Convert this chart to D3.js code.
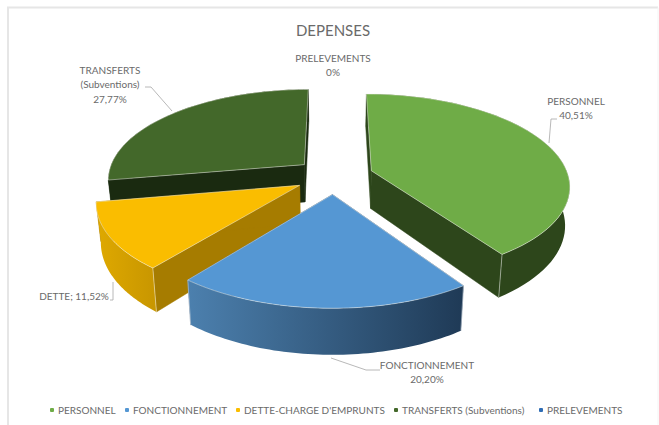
<!DOCTYPE html>
<html lang="fr">
<head>
<meta charset="utf-8">
<title>DEPENSES</title>
<script src="https://cdn.jsdelivr.net/npm/d3@7"></script>
<style>
  html, body { margin: 0; padding: 0; background: #fff; }
  svg { display: block; }
  text { font-family: Lato, "Open Sans", sans-serif; fill: #6a6a6a; }
</style>
</head>
<body>
<svg id="chart" width="659" height="425"></svg>
<script>
// Budget shares, in percent
const categories = ["PERSONNEL", "FONCTIONNEMENT", "DETTE-CHARGE D'EMPRUNTS", "TRANSFERTS (Subventions)", "PRELEVEMENTS"];
const shares = [40.51, 20.20, 11.52, 27.77, 0];
const labelNames = [["PERSONNEL"], ["FONCTIONNEMENT"], ["DETTE"], ["TRANSFERTS", "(Subventions)"], ["PRELEVEMENTS"]];
const topColors = ["#6fac47", "#5597d3", "#fabd00", "#43682a", "#2f6db5"];
const wallStart = ["#2d461b", "#4c80ae", "#dfa900", "#1a2a10", "#1f4a7a"];
const wallEnd = ["#2d461b", "#1f3a56", "#c99700", "#1a2a10", "#1f4a7a"];
const radialWall = ["#2d461b", "#2a4a6c", "#a67c00", "#1a2a10", "#1f4a7a"];
const drawOrder = [3, 0, 2, 1];
const chartTitle = "DEPENSES";

const svg = d3.select("#chart");

// Tilted disc: plane coordinates run from -1 to 1 and shrink towards the back
const cx = 334, cy = 176, radiusX = 197, radiusY = 90;
const perspective = 0.153, explode = 0.2, depth = 38, floorShrink = 0.98;
const xScale = d3.scaleLinear().domain([-1, 1]).range([cx - radiusX, cx + radiusX]);
const yScale = d3.scaleLinear().domain([-1, 1]).range([cy - radiusY, cy + radiusY]);

function project(u, v, floor) {
  const f = 1 / (1 - perspective * v);
  const x = xScale(u * f), y = yScale(v * f);
  return floor ? [cx + (x - cx) * floorShrink, y + depth * f] : [x, y];
}

const pie = d3.pie().sort(null).value(d => d).startAngle(0).endAngle(2 * Math.PI);
const arcs = pie(shares);
const path = d3.line();
const defs = svg.append("defs");

// Chart frame
svg.append("path").attr("d", "M8 425V7.5H658").attr("fill", "none").attr("stroke", "#e6e6e6").attr("stroke-width", 2);
svg.append("path").attr("d", "M658 7.5V425").attr("fill", "none").attr("stroke", "#f4f4f4").attr("stroke-width", 1);

drawOrder.forEach(i => {
  const a = arcs[i];
  const mid = (a.startAngle + a.endAngle) / 2;
  const u0 = explode * Math.sin(mid), v0 = -explode * Math.cos(mid);
  const rim = d3.range(0, 61).map(k => {
    const t = a.startAngle + (a.endAngle - a.startAngle) * k / 60;
    return [u0 + Math.sin(t), v0 - Math.cos(t)];
  });
  const rimTop = rim.map(p => project(p[0], p[1], false));
  const rimFloor = rim.map(p => project(p[0], p[1], true));
  const apexTop = project(u0, v0, false), apexFloor = project(u0, v0, true);
  const g = svg.append("g");

  const gradId = "wall" + i;
  const grad = defs.append("linearGradient").attr("id", gradId)
    .attr("gradientUnits", "userSpaceOnUse")
    .attr("x1", d3.min(rimTop, p => p[0])).attr("x2", d3.max(rimTop, p => p[0])).attr("y1", 0).attr("y2", 0);
  grad.append("stop").attr("offset", 0).attr("stop-color", wallStart[i]);
  grad.append("stop").attr("offset", 1).attr("stop-color", wallEnd[i]);

  // Radial walls, then the curved outer wall, then the top face
  [[rimTop[0], rimFloor[0]], [rimTop[60], rimFloor[60]]].forEach(([t, f]) => {
    g.append("path").attr("d", path([apexTop, t, f, apexFloor]) + "Z")
      .attr("fill", radialWall[i]).attr("stroke", radialWall[i]).attr("stroke-width", 0.5);
  });
  g.append("path").attr("d", path(rimTop.concat(rimFloor.slice().reverse())) + "Z")
    .attr("fill", `url(#${gradId})`);

  // Pale highlight down the visible vertical edges
  [0, 60].forEach(k => {
    if (rim[k][1] > v0 + 0.3) {
      g.append("path").attr("d", path([rimTop[k], rimFloor[k]]))
        .attr("stroke", "#fff").attr("stroke-opacity", 0.45).attr("stroke-width", 1).attr("fill", "none");
    }
  });

  g.append("path").attr("d", path([apexTop].concat(rimTop)) + "Z")
    .attr("fill", topColors[i]).attr("stroke", "#f2f2ec").attr("stroke-opacity", 0.6)
    .attr("stroke-width", 0.8).attr("stroke-linejoin", "round");
});

// Title
svg.append("text").attr("x", 333).attr("y", 36).attr("text-anchor", "middle")
  .attr("font-size", 15).text(chartTitle);

// Data labels with their leader lines
const pct = v => (v === 0 ? "0" : d3.format(".2f")(v).replace(".", ",")) + "%";
const labelAnchors = [[576, 105], [427, 369], [74, 300], [110, 74], [333, 62]];
const labelRows = labelNames.map((n, i) => i === 2 ? [`${n[0]}; ${pct(shares[i])}`] : n.concat(pct(shares[i])));
labelRows.forEach((rows, i) => {
  const t = svg.append("text").attr("text-anchor", "middle").attr("font-size", 10);
  rows.forEach((r, n) => t.append("tspan").attr("x", labelAnchors[i][0]).attr("y", labelAnchors[i][1] + n * 14.4).text(r));
});

const leaders = [
  [[557, 119], [551, 119], [549, 143]],
  [[380, 370], [366, 370], [331, 358]],
  [[110, 300], [113, 300], [113, 282]],
  [[145, 87], [151, 87], [172, 111]]
];
leaders.forEach(l => svg.append("path").attr("d", path(l)).attr("fill", "none")
  .attr("stroke", "#a6a6a6").attr("stroke-width", 0.8));

// Legend
const legendX = [52, 127, 238, 396, 541];
const legend = svg.append("g").selectAll("g").data(categories).join("g")
  .attr("transform", (d, i) => `translate(${legendX[i]},410)`);
legend.append("rect").attr("x", -2).attr("y", -2).attr("width", 4).attr("height", 4).attr("rx", 1)
  .attr("fill", (d, i) => topColors[i]);
legend.append("text").attr("x", 6).attr("y", 3.5).attr("font-size", 10).text(d => d);
</script>
</body>
</html>
